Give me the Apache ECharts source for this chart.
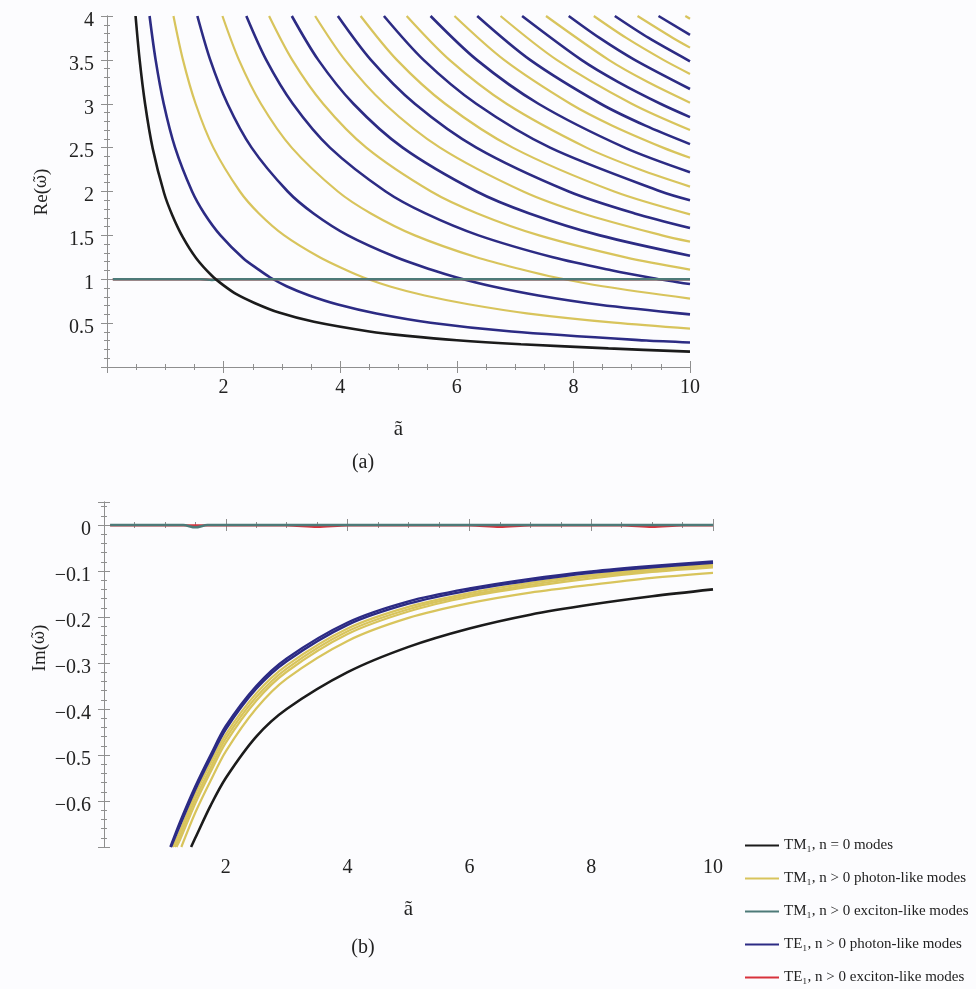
<!DOCTYPE html>
<html><head><meta charset="utf-8">
<script src="https://cdn.jsdelivr.net/npm/echarts@6/dist/echarts.min.js"></script>
<style>html,body{margin:0;padding:0;background:#fcfcfe;}#c{width:976px;height:989px;}</style>
</head><body><div id="c"></div>
<script>
// ---------- data ----------
const xTicksA = [2, 4, 6, 8, 10];
const yTicksA = [0.5, 1, 1.5, 2, 2.5, 3, 3.5, 4];
const yTicksB = [0, -0.1, -0.2, -0.3, -0.4, -0.5, -0.6];
const legendNames = ['TM\u2081, n = 0 modes', 'TM\u2081, n > 0 photon-like modes', 'TM\u2081, n > 0 exciton-like modes', 'TE\u2081, n > 0 photon-like modes', 'TE\u2081, n > 0 exciton-like modes'];

// panel (a): Re(w) vs a
const reTM0 = [[0.49,4],[0.56,3.5],[0.653,3],[0.784,2.49],[0.98,1.98],[1.12,1.73],[1.3,1.48],[1.53,1.24],[1.8,1.04],[2.0,0.93],[2.22,0.83],[2.53,0.73],[2.95,0.62],[3.55,0.515],[4.5,0.405],[5.15,0.355],[6.0,0.305],[7.1,0.26],[8.6,0.212],[10,0.175]];
const reTE = [
 [[0.73,4],[0.834,3.5],[0.973,3],[1.168,2.5],[1.46,2],[1.669,1.75],[1.947,1.5],[2.336,1.24],[2.6,1.11],[2.8,1.02],[3.08,0.92],[3.47,0.815],[3.96,0.712],[4.62,0.61],[5.55,0.505],[6.94,0.405],[9.25,0.302],[10,0.28]],
 [[1.55,4],[1.771,3.5],[2.067,3],[2.48,2.5],[3.1,2],[3.543,1.75],[4.133,1.5],[4.96,1.25],[5.58,1.105],[6.0,1.02],[6.6,0.92],[7.4,0.815],[8.45,0.71],[10,0.6]],
 [[2.39,4],[2.731,3.5],[3.187,3],[3.824,2.5],[4.78,2],[5.463,1.75],[6.373,1.5],[7.648,1.25],[8.65,1.102],[9.35,1.015],[10,0.945]],
 [[3.17,4],[3.623,3.5],[4.227,3],[5.072,2.5],[6.34,2],[7.246,1.75],[8.453,1.5],[10,1.268]],
 [[3.96,4],[4.526,3.5],[5.28,3],[6.336,2.5],[7.92,2],[9.051,1.75],[10,1.584]],
 [[4.75,4],[5.429,3.5],[6.333,3],[7.6,2.5],[9.5,2],[10,1.9]],
 [[5.55,4],[6.343,3.5],[7.4,3],[8.88,2.5],[10,2.22]],
 [[6.35,4],[7.257,3.5],[8.467,3],[9.236,2.75],[10,2.54]],
 [[7.12,4],[8.137,3.5],[8.763,3.25],[9.493,3],[10,2.848]],
 [[7.92,4],[8.448,3.75],[9.051,3.5],[10,3.168]],
 [[8.71,4],[9.291,3.75],[10,3.484]],
 [[9.46,4],[10,3.784]]
];
const reTM = [
 [[1.14,4],[1.303,3.5],[1.52,3],[1.824,2.5],[2.28,2],[2.606,1.75],[3.04,1.5],[3.648,1.25],[4.1,1.105],[4.4,1.02],[4.87,0.915],[5.45,0.815],[6.2,0.715],[7.2,0.612],[8.7,0.505],[10,0.438]],
 [[1.98,4],[2.263,3.5],[2.64,3],[3.168,2.5],[3.96,2],[4.526,1.75],[5.28,1.5],[6.336,1.25],[7.15,1.105],[7.7,1.02],[8.5,0.92],[10,0.78]],
 [[2.78,4],[3.177,3.5],[3.707,3],[4.448,2.5],[5.56,2],[6.354,1.75],[7.413,1.5],[8.896,1.25],[10,1.11]],
 [[3.57,4],[4.08,3.5],[4.76,3],[5.712,2.5],[7.14,2],[8.16,1.75],[9.52,1.5],[10,1.428]],
 [[4.35,4],[4.971,3.5],[5.8,3],[6.96,2.5],[8.7,2],[10,1.74]],
 [[5.14,4],[5.874,3.5],[6.853,3],[8.224,2.5],[9.14,2.25],[10,2.056]],
 [[5.96,4],[6.811,3.5],[7.947,3],[8.669,2.75],[9.536,2.5],[10,2.384]],
 [[6.75,4],[7.714,3.5],[9.0,3],[10,2.7]],
 [[7.53,4],[8.606,3.5],[9.268,3.25],[10,3.012]],
 [[8.35,4],[8.907,3.75],[9.543,3.5],[10,3.34]],
 [[9.1,4],[9.707,3.75],[10,3.64]],
 [[9.92,4],[10,3.968]]
];
const reExciton = [[0.1,1.0],[1.6,1.0],[1.8,0.993],[2.0,1.0],[10,1.0]];

// panel (b): Im(w) vs a
const imTM0 = [[1.43,-0.70],[1.5,-0.68],[1.75,-0.61],[2,-0.55],[2.5,-0.46],[3,-0.40],[4,-0.32],[5,-0.265],[6,-0.225],[7,-0.195],[8,-0.173],[9,-0.155],[10,-0.14]];
const imTE = [
 [[1.09,-0.70],[1.25,-0.645],[1.5,-0.568],[1.75,-0.50],[2,-0.437],[2.5,-0.35],[3,-0.29],[4,-0.212],[5,-0.166],[6,-0.138],[7,-0.117],[8,-0.101],[9,-0.089],[10,-0.079]],
 [[1.1,-0.70],[1.25,-0.652],[1.5,-0.575],[1.75,-0.507],[2,-0.444],[2.5,-0.356],[3,-0.296],[4,-0.217],[5,-0.171],[6,-0.142],[7,-0.121],[8,-0.104],[9,-0.092],[10,-0.082]]
];
const imTM = [
 [[1.13,-0.70],[1.25,-0.665],[1.5,-0.585],[1.75,-0.518],[2,-0.455],[2.5,-0.366],[3,-0.305],[4,-0.225],[5,-0.178],[6,-0.148],[7,-0.126],[8,-0.109],[9,-0.096],[10,-0.086]],
 [[1.16,-0.70],[1.25,-0.675],[1.5,-0.595],[1.75,-0.528],[2,-0.464],[2.5,-0.374],[3,-0.312],[4,-0.231],[5,-0.183],[6,-0.152],[7,-0.13],[8,-0.112],[9,-0.099],[10,-0.089]],
 [[1.19,-0.70],[1.25,-0.684],[1.5,-0.605],[1.75,-0.537],[2,-0.473],[2.5,-0.382],[3,-0.319],[4,-0.237],[5,-0.188],[6,-0.156],[7,-0.134],[8,-0.116],[9,-0.102],[10,-0.092]],
 [[1.27,-0.70],[1.5,-0.625],[1.75,-0.556],[2,-0.492],[2.5,-0.399],[3,-0.334],[4,-0.252],[5,-0.202],[6,-0.17],[7,-0.147],[8,-0.13],[9,-0.115],[10,-0.104]]
];
const imExcitonTM = [[0.1,0],[1.3,0],[1.5,-0.005],[1.7,0],[10,0]];
const imExcitonTE = [[0.1,-0.001],[3,-0.001],[3.5,-0.004],[4,-0.001],[6,-0.001],[6.5,-0.004],[7,-0.001],[8.5,-0.001],[9,-0.004],[9.5,-0.001],[10,-0.001]];

// ---------- styling ----------
const FONT = 'Liberation Serif';
const C = {black:'#1b1b1b', yellow:'#d8c45c', teal:'#4d7a78', blue:'#2c2b84', red:'#d8323c'};
const frame = '#8f8f8f';

function xAx(grid, pos, showLabel, name){
  return {type:'value', gridIndex:grid, position:pos, min:0, max:10, interval:2,
    axisLine:{show:true, lineStyle:{color:frame, width:1}},
    axisTick:{show:true, inside:true, length:6, lineStyle:{color:frame}},
    minorTick:{show:true, splitNumber:4, length:3, lineStyle:{color:frame}},
    splitLine:{show:false},
    axisLabel:{show:showLabel, inside:false, margin:11, fontFamily:FONT, fontSize:20, color:'#222',
      formatter:v=> xTicksA.indexOf(v)>=0 ? String(v) : ''},
    name: name||'', nameLocation:'middle', nameGap:52, nameTextStyle:{fontFamily:FONT, fontSize:21, color:'#222'}};
}
const labRich = {p:{padding:[9,0,0,0], fontFamily:FONT, fontSize:20, color:'#222'}};
function yAx(grid, pos, showLabel, min, max, interval, minorSplit, fmt){
  return {type:'value', gridIndex:grid, position:pos, min:min, max:max, interval:interval,
    axisLine:{show:true, lineStyle:{color:frame, width:1}},
    axisTick:{show:true, inside:true, length:6, lineStyle:{color:frame}},
    minorTick:{show:true, splitNumber:minorSplit, length:3, lineStyle:{color:frame}},
    splitLine:{show:false},
    axisLabel:{show:showLabel, margin:13, fontFamily:FONT, fontSize:20, color:'#222', rich:labRich,
      formatter:v => { const t = fmt(v); return t ? '{p|' + t + '}' : ''; }}};
}
const fmtA = v => yTicksA.indexOf(v)>=0 ? String(v) : '';
const fmtB = v => {
  const r = Math.round(v*10)/10;
  if (Math.abs(r - v) > 1e-6) return '';
  return yTicksB.indexOf(r)>=0 ? String(r).replace('-', '\u2212') : '';
};

const series = [];
function add(name, data, color, width, xi, yi, z){
  series.push({name:name, type:'line', data:data, xAxisIndex:xi, yAxisIndex:yi,
    showSymbol:false, symbol:'none', smooth:0.3, clip:true, z:z||2,
    lineStyle:{color:color, width:width}, itemStyle:{color:color}, emphasis:{disabled:true}});
}
// panel a
reTM.forEach(d => add(legendNames[1], d, C.yellow, 2.2, 0, 0, 2));
reTE.forEach(d => add(legendNames[3], d, C.blue, 2.6, 0, 0, 3));
add(legendNames[4], reExciton, C.red, 2.4, 0, 0, 3);
add(legendNames[2], reExciton, C.teal, 2.6, 0, 0, 4);
add(legendNames[0], reTM0, C.black, 2.6, 0, 0, 5);
// panel b
imTM.forEach(d => add(legendNames[1], d, C.yellow, 2.2, 2, 2, 2));
imTE.forEach(d => add(legendNames[3], d, C.blue, 2.4, 2, 2, 3));
add(legendNames[4], imExcitonTE, C.red, 2.2, 2, 2, 3);
add(legendNames[2], imExcitonTM, C.teal, 2.6, 2, 2, 4);
add(legendNames[0], imTM0, C.black, 2.6, 2, 2, 5);

function yName(text, cx, cy){
  return {type:'text', x:cx, y:cy, rotation:Math.PI/2,
    style:{text:'{n|'+text+'(}{w|\u03c9\u0303}{n|)}', align:'center', verticalAlign:'middle',
      rich:{n:{fontFamily:FONT, fontSize:19, fill:'#222', color:'#222'},
            w:{fontFamily:'DejaVu Serif', fontSize:16, fill:'#222', color:'#222'}}}};
}

const option = {
  backgroundColor:'#fcfcfe',
  animation:false,
  grid:[
    {left:107, top:16, width:583, height:351},
    {left:104, top:502, width:609, height:345}
  ],
  xAxis:[ xAx(0,'bottom',true,'\u00e3'), xAx(0,'top',false), xAx(1,'bottom',true,'\u00e3'), xAx(1,'top',false) ],
  yAxis:[
    yAx(0,'left',true,0,4,0.5,5,fmtA),
    yAx(0,'right',false,0,4,0.5,5,fmtA),
    yAx(1,'left',true,-0.7,0.05,0.1,5,fmtB),
    yAx(1,'right',false,-0.7,0.05,0.1,5,fmtB)
  ],
  legend:{show:true, orient:'vertical', left:745, top:838, padding:0, itemWidth:34, itemHeight:2, itemGap:18,
    icon:'rect', data:legendNames, selectedMode:false,
    textStyle:{fontFamily:FONT, fontSize:15, color:'#222'}},
  graphic:[
    yName('Re', 42, 192),
    yName('Im', 40, 648),
    {type:'text', x:363, y:463, style:{text:'(a)', align:'center', verticalAlign:'middle', font:'20px "Liberation Serif"', fill:'#222'}},
    {type:'text', x:363, y:948, style:{text:'(b)', align:'center', verticalAlign:'middle', font:'20px "Liberation Serif"', fill:'#222'}}
  ],
  series:series
};
const chart = echarts.init(document.getElementById('c'), null, {renderer:'canvas'});
chart.setOption(option);
</script></body></html>
